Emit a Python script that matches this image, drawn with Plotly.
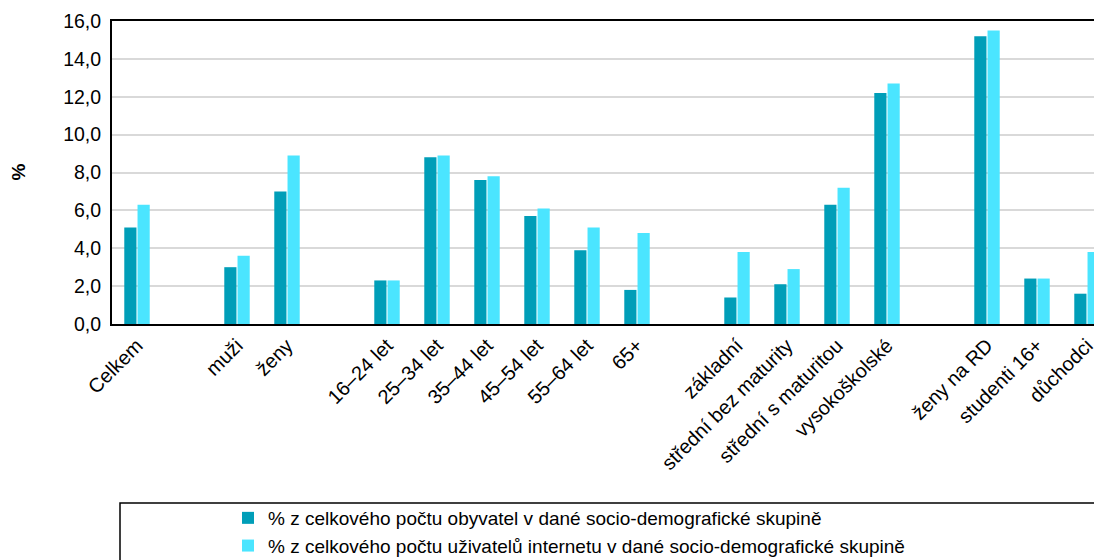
import plotly.graph_objects as go

categories = ["Celkem", "", "muži", "ženy", "", "16–24 let", "25–34 let", "35–44 let",
              "45–54 let", "55–64 let", "65+", "", "základní", "střední bez maturity",
              "střední s maturitou", "vysokoškolské", "", "ženy na RD", "studenti 16+", "důchodci"]
obyvatel = [5.1, None, 3.0, 7.0, None, 2.3, 8.8, 7.6, 5.7, 3.9, 1.8, None, 1.4, 2.1, 6.3, 12.2,
            None, 15.2, 2.4, 1.6]
uzivatele = [6.3, None, 3.6, 8.9, None, 2.3, 8.9, 7.8, 6.1, 5.1, 4.8, None, 3.8, 2.9, 7.2, 12.7,
             None, 15.5, 2.4, 3.8]
series_names = ["% z celkového počtu obyvatel v dané socio-demografické skupině",
                "% z celkového počtu uživatelů internetu v dané socio-demografické skupině"]
y_ticks = [0, 2, 4, 6, 8, 10, 12, 14, 16]
y_ticktext = ["0,0", "2,0", "4,0", "6,0", "8,0", "10,0", "12,0", "14,0", "16,0"]

positions = list(range(len(categories)))
FONT = "Liberation Sans, Arial, sans-serif"

fig = go.Figure()
fig.add_trace(go.Bar(x=positions, y=obyvatel, name=series_names[0],
                     marker=dict(color="#009EB8", line=dict(width=0)), legendgroup="a"))
fig.add_trace(go.Bar(x=positions, y=uzivatele, name=series_names[1],
                     marker=dict(color="#4BE5FF", line=dict(width=0)), legendgroup="b"))

# The page body has an 8px default margin; the plot area runs slightly past the right edge,
# as in the reference.
fig.update_layout(
    width=1104, height=552,
    margin=dict(l=104, r=0, t=13, b=236, autoexpand=False),
    paper_bgcolor="white", plot_bgcolor="white",
    barmode="group", bargap=0.47, bargroupgap=0.08,
    font=dict(family=FONT, color="black"),
    showlegend=True,
    legend=dict(xref="container", yref="container", x=0.1993, y=0.1105,
                xanchor="left", yanchor="top",
                font=dict(size=19, family=FONT), bgcolor="rgba(0,0,0,0)",
                tracegroupgap=0, itemwidth=30),
    xaxis=dict(range=[-0.5, len(categories) - 0.5], tickmode="array",
               tickvals=positions, ticktext=categories, tickangle=-45,
               tickfont=dict(size=20), showgrid=False, zeroline=False,
               showline=True, linecolor="black", linewidth=2, mirror=True,
               ticks="", automargin=False),
    yaxis=dict(range=[0, 16], tickmode="array", tickvals=y_ticks, ticktext=y_ticktext,
               tickfont=dict(size=19.5), showgrid=True, gridcolor="#D9D9D9", gridwidth=1.5,
               zeroline=False, showline=True, linecolor="black", linewidth=2,
               ticks="", ticklabelstandoff=5, automargin=False),
    annotations=[dict(text="<b>%</b>", x=-0.094, y=0.5, xref="paper", yref="paper",
                      xanchor="center", yanchor="middle",
                      textangle=-90, showarrow=False, font=dict(size=19, family=FONT))],
    shapes=[dict(type="rect", xref="paper", yref="paper", x0=0.008, x1=1.02,
                 y0=-0.5908, y1=-0.84, line=dict(color="black", width=1.5),
                 fillcolor="rgba(0,0,0,0)")],
)

fig.write_html("out.html")
